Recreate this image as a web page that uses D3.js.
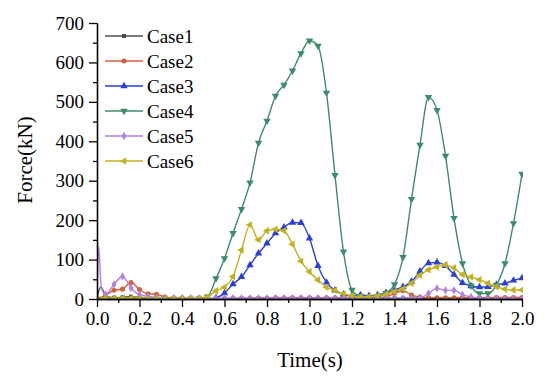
<!DOCTYPE html>
<html>
<head>
<meta charset="utf-8">
<script src="https://d3js.org/d3.v7.min.js"></script>
<style>
  body { margin: 0; background: #fff; }
  svg text { font-family: "Liberation Serif", "Times New Roman", serif; }
</style>
</head>
<body>
<div id="chart"></div>
<script>

// time grid (s), one marker every 0.04 s
const time = d3.range(51).map(i => +(i * 0.04).toFixed(2));

// short lead-in right after t=0 (spikes)
const leadTime = [0.008, 0.02];
const case1Lead = [20, 30];
const case5Lead = [133, 30];

// force values (kN)
const case1 = [0, 8, 3, 4, 6, 3, 2, 2, 1, 1, 1, 1, 1, 1, 1, 1, 1, 1, 1, 2, 2, 2, 2, 2, 2, 2,
  2, 2, 2, 1, 1, 1, 1, 1, 2, 2, 2, 2, 2, 2, 2, 2, 2, 2, 2, 2, 2, 2, 2, 2, 2];
const case2 = [0, 10, 22, 25, 42, 24, 13, 12, 5, 2, 2, 1, 1, 1, 1, 1, 2, 2, 2, 2, 2, 3, 3, 3, 3, 3,
  3, 3, 3, 3, 2, 2, 2, 3, 5, 14, 21, 10, 5, 3, 3, 3, 3, 3, 3, 3, 3, 4, 4, 4, 4];
const case3 = [0, 0, 0, 0, 0, 0, 0, 0, 0, 0, 0, 0, 0, 0, 3, 15, 38, 56, 86, 116, 141, 167, 182, 194, 193, 154,
  84, 42, 22, 12, 8, 10, 8, 10, 16, 23, 31, 44, 70, 91, 93, 84, 62, 41, 33, 30, 31, 36, 40, 47, 53];
const case4 = [0, 0, 0, 0, 0, 0, 0, 0, 0, 0, 0, 0, 1, 6, 52, 103, 167, 228, 295, 396, 452, 515, 543, 579, 623, 655,
  642, 523, 314, 120, 23, 6, 4, 6, 15, 37, 106, 253, 391, 512, 479, 363, 205, 90, 34, 14, 14, 36, 90, 192, 317];
const case5 = [0, 12, 37, 57, 28, 11, 7, 4, 2, 2, 2, 2, 2, 2, 2, 2, 2, 2, 2, 2, 2, 2, 2, 2, 2, 2,
  2, 2, 2, 2, 2, 2, 2, 2, 2, 2, 2, 2, 3, 14, 27, 22, 22, 11, 5, 2, 1, 1, 1, 1, 1];
const case6 = [0, 2, 2, 2, 2, 2, 1, 1, 1, 1, 1, 1, 1, 5, 21, 30, 57, 124, 188, 150, 173, 177, 173, 139, 96, 69,
  48, 30, 22, 13, 8, 6, 6, 8, 12, 19, 26, 40, 60, 74, 81, 86, 79, 62, 56, 49, 40, 31, 25, 23, 23];

const names = ["Case1", "Case2", "Case3", "Case4", "Case5", "Case6"];
const colors = ["#4d4d4d", "#d0623f", "#2b3fd6", "#3d8c69", "#b27fe2", "#c2b222"];

const xTicks = [0, 0.2, 0.4, 0.6, 0.8, 1.0, 1.2, 1.4, 1.6, 1.8, 2.0];
const yTicks = [0, 100, 200, 300, 400, 500, 600, 700];

const series = [
  {name: names[0], values: case1, lead: case1Lead, color: colors[0], symbol: d3.symbolSquare, rot: 0, size: 16},
  {name: names[1], values: case2, lead: null, color: colors[1], symbol: d3.symbolCircle, rot: 0, size: 20},
  {name: names[2], values: case3, lead: null, color: colors[2], symbol: d3.symbolTriangle, rot: 0, size: 24},
  {name: names[3], values: case4, lead: null, color: colors[3], symbol: d3.symbolTriangle, rot: 180, size: 24},
  {name: names[4], values: case5, lead: case5Lead, color: colors[4], symbol: d3.symbolDiamond, rot: 0, size: 20},
  {name: names[5], values: case6, lead: null, color: colors[5], symbol: d3.symbolTriangle, rot: -90, size: 24}
];

const W = 550, H = 382;
const margin = {top: 23, right: 28, bottom: 83, left: 97};
const serif = "'Liberation Serif', 'Times New Roman', serif";

const svg = d3.select("#chart").append("svg")
  .attr("width", W).attr("height", H)
  .attr("font-family", serif);

const x = d3.scaleLinear().domain([0, 2]).range([margin.left, W - margin.right]);
const y = d3.scaleLinear().domain([0, 700]).range([H - margin.bottom, margin.top]);

svg.append("clipPath").attr("id", "clip")
  .append("rect")
  .attr("x", margin.left).attr("y", margin.top - 5)
  .attr("width", x(2) - x(0) + 1).attr("height", y(0) - y(700) + 6);

const line = d3.line()
  .x(d => x(d[0])).y(d => y(d[1]))
  .curve(d3.curveMonotoneX);

const plot = svg.append("g").attr("clip-path", "url(#clip)");

series.forEach(s => {
  let pts = time.map((t, i) => [t, s.values[i]]);
  if (s.lead) {
    pts = [pts[0]].concat(leadTime.map((t, i) => [t, s.lead[i]]), pts.slice(1));
  }
  plot.append("path")
    .attr("d", line(pts))
    .attr("fill", "none")
    .attr("stroke", s.color)
    .attr("stroke-width", 1.4);

  const sym = d3.symbol().type(s.symbol).size(s.size);
  plot.append("g").selectAll("path")
    .data(time.map((t, i) => [t, s.values[i]]))
    .join("path")
      .attr("d", sym)
      .attr("fill", s.color)
      .attr("transform", d => `translate(${x(d[0])},${y(d[1])}) rotate(${s.rot})`);
});

// axes
const xMinor = d3.range(21).map(i => i * 0.1).filter((v, i) => i % 2 === 1);
const yMinor = d3.range(14).map(i => i * 50 + 50).filter((v, i) => i % 2 === 0);

const gx = svg.append("g").attr("transform", `translate(0,${y(0)})`);
gx.append("g").call(d3.axisBottom(x).tickValues(xMinor).tickSize(4).tickFormat("").tickSizeOuter(0));
gx.append("g").call(d3.axisBottom(x).tickValues(xTicks).tickSize(8).tickPadding(5)
    .tickFormat(d3.format(".1f")).tickSizeOuter(0));

const gy = svg.append("g").attr("transform", `translate(${x(0)},0)`);
gy.append("g").call(d3.axisLeft(y).tickValues(yMinor).tickSize(4).tickFormat("").tickSizeOuter(0));
gy.append("g").call(d3.axisLeft(y).tickValues(yTicks).tickSize(8).tickPadding(5).tickSizeOuter(0));

svg.selectAll(".domain").attr("stroke", "#000").attr("stroke-width", 1.3);
svg.selectAll(".tick line").attr("stroke", "#000").attr("stroke-width", 1.3);
gx.selectAll("g").attr("font-family", serif).attr("font-size", 19);
gy.selectAll("g").attr("font-family", serif).attr("font-size", 19);
svg.selectAll(".tick text").attr("fill", "#000");

// axis titles
svg.append("text")
  .attr("x", 310).attr("y", 367)
  .attr("text-anchor", "middle")
  .attr("font-size", 21)
  .text("Time(s)");

svg.append("text")
  .attr("transform", "translate(32,160) rotate(-90)")
  .attr("text-anchor", "middle")
  .attr("font-size", 21)
  .text("Force(kN)");

// legend
const legend = svg.append("g");
series.forEach((s, i) => {
  const ly = 36 + i * 25;
  legend.append("line")
    .attr("x1", 105).attr("x2", 143).attr("y1", ly).attr("y2", ly)
    .attr("stroke", s.color).attr("stroke-width", 1.3);
  legend.append("path")
    .attr("d", d3.symbol().type(s.symbol).size(s.size)())
    .attr("fill", s.color)
    .attr("transform", `translate(124,${ly}) rotate(${s.rot})`);
  legend.append("text")
    .attr("x", 147).attr("y", ly)
    .attr("dy", "0.35em")
    .attr("font-size", 19)
    .text(s.name);
});

</script>
</body>
</html>
